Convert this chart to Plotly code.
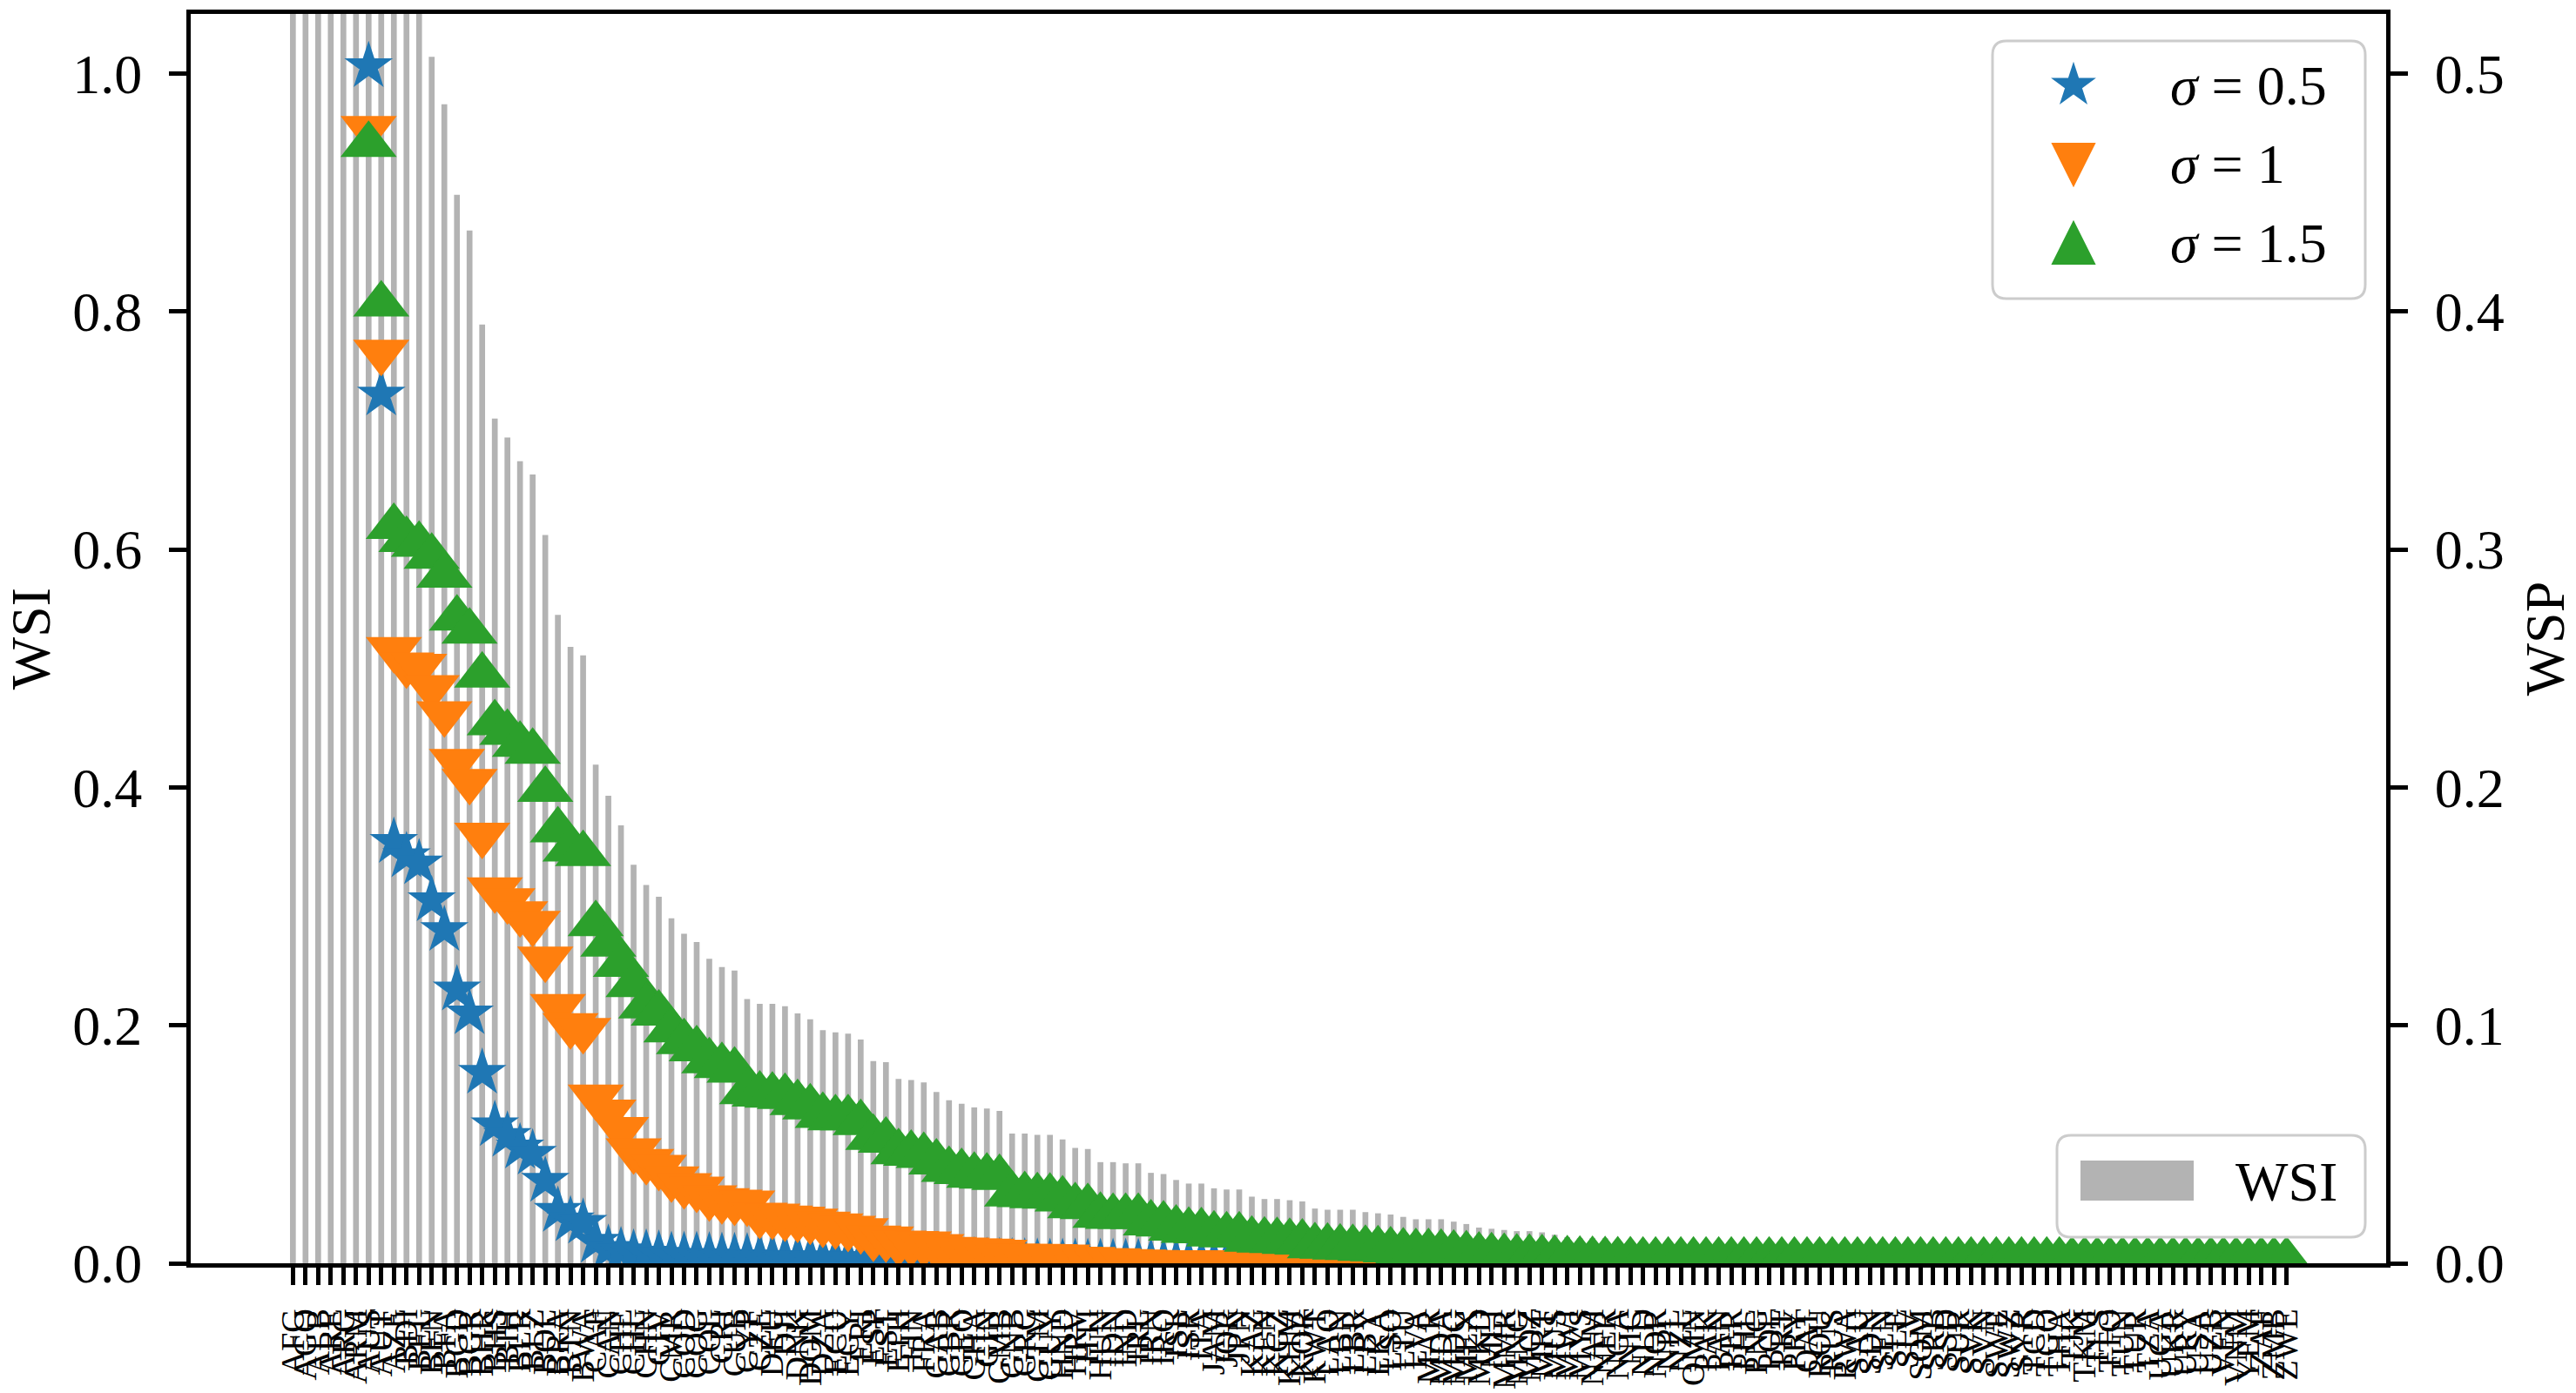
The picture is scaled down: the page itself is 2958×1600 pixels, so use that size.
import math
import plotly.graph_objects as go

# ---------------- data ----------------
countries = [
    "AFG", "AGO", "ALB", "ARE", "ARG", "ARM", "AUS", "AUT", "AZE", "BDI",
    "BEL", "BEN", "BFA", "BGD", "BGR", "BHR", "BHS", "BIH", "BLR", "BLZ",
    "BOL", "BRA", "BTN", "BWA", "CAF", "CAN", "CHE", "CHL", "CHN", "CIV",
    "CMR", "COD", "COG", "COL", "CRI", "CUB", "CYP", "CZE", "DEU", "DJI",
    "DNK", "DOM", "DZA", "ECU", "EGY", "ERI", "ESP", "EST", "ETH", "FIN",
    "FRA", "GAB", "GBR", "GEO", "GHA", "GIN", "GMB", "GNB", "GRC", "GTM",
    "GUY", "HND", "HRV", "HTI", "HUN", "IDN", "IND", "IRL", "IRN", "IRQ",
    "ISL", "ISR", "ITA", "JAM", "JOR", "JPN", "KAZ", "KEN", "KGZ", "KHM",
    "KOR", "KWT", "LAO", "LBN", "LBR", "LBY", "LKA", "LSO", "LTU", "LVA",
    "MAR", "MDA", "MDG", "MEX", "MKD", "MLI", "MMR", "MNG", "MOZ", "MRT",
    "MUS", "MWI", "MYS", "NAM", "NER", "NGA", "NIC", "NLD", "NOR", "NPL",
    "NZL", "OMN", "PAK", "PAN", "PER", "PHL", "PNG", "POL", "PRT", "PRY",
    "QAT", "ROU", "RUS", "RWA", "SAU", "SDN", "SEN", "SLE", "SLV", "SOM",
    "SRB", "SSD", "SUR", "SVK", "SVN", "SWE", "SWZ", "SYR", "TCD", "TGO",
    "THA", "TJK", "TKM", "TLS", "TTO", "TUN", "TUR", "TZA", "UGA", "UKR",
    "URY", "USA", "UZB", "VEN", "VNM", "YEM", "ZAF", "ZMB", "ZWE",
]

# WSI (left axis), bars
wsi = [
    2.8, 2.3, 1.9, 1.7, 1.55, 1.42, 1.33, 1.25, 1.18, 1.12, 1.07,
    1.014, 0.974, 0.898, 0.868, 0.789, 0.710, 0.694, 0.674, 0.663, 0.612,
    0.545, 0.518, 0.511, 0.419, 0.393, 0.368, 0.335, 0.318, 0.308, 0.290,
    0.277, 0.270, 0.256, 0.249, 0.246, 0.222, 0.218, 0.218, 0.216, 0.210,
    0.205, 0.196, 0.194, 0.193, 0.188, 0.170, 0.169, 0.155, 0.154, 0.152,
    0.144, 0.137, 0.134, 0.131, 0.130, 0.128, 0.109, 0.109, 0.108, 0.108,
    0.104, 0.097, 0.096, 0.085, 0.085, 0.084, 0.084, 0.076, 0.075, 0.070,
    0.067, 0.067, 0.063, 0.062, 0.062, 0.056, 0.054, 0.054, 0.053, 0.052,
    0.046, 0.045, 0.045, 0.045, 0.043, 0.042, 0.041, 0.039, 0.037, 0.037,
    0.037, 0.035, 0.033, 0.030, 0.029, 0.028, 0.027, 0.027, 0.026, 0.024,
    0.022, 0.021, 0.021, 0.021, 0.020, 0.019, 0.019, 0.018, 0.018, 0.017,
    0.017, 0.016, 0.016, 0.015, 0.015, 0.014, 0.014, 0.013, 0.013, 0.012,
    0.012, 0.011, 0.011, 0.010, 0.010, 0.009, 0.009, 0.009, 0.008, 0.008,
    0.007, 0.007, 0.007, 0.006, 0.006, 0.006, 0.005, 0.005, 0.005, 0.004,
    0.004, 0.004, 0.003, 0.003, 0.003, 0.003, 0.002, 0.002, 0.002, 0.002,
    0.002, 0.001, 0.001, 0.001, 0.001, 0.001, 0.0005, 0.0003,
]

# WSP (right axis); first six points lie above the axis range (not visible)
wsp_s05 = [None, None, None, None, None, None,
    0.503, 0.365, 0.177, 0.171, 0.168, 0.1525, 0.140, 0.115, 0.105, 0.080,
    0.058, 0.0535, 0.0486, 0.046, 0.0346, 0.022, 0.018, 0.017, 0.009, 0.006,
    0.005, 0.004, 0.004, 0.0035, 0.003, 0.003, 0.003, 0.0028, 0.0026, 0.0025,
    0.0024, 0.0023, 0.0022, 0.0021, 0.002, 0.002, 0.0019, 0.0018, 0.0017, 0.0016,
    0.0015, 0.0013, 0.0012, 0.0011, 0.001, 0.0009, 0.0008, 0.0007, 0.0006, 0.0005,
    0.0004, 0.0003, 0.0002, 0.0001, 0.0, 0.0, 0.0, 0.0, 0.0, 0.0,
    0.0, 0.0, 0.0, 0.0, 0.0, 0.0, 0.0, 0.0, 0.0, 0.0,
    0.0, 0.0, 0.0, 0.0, 0.0, 0.0, 0.0, 0.0, 0.0, 0.0,
    0.0, 0.0, 0.0, 0.0, 0.0, 0.0, 0.0, 0.0, 0.0, 0.0,
    0.0, 0.0, 0.0, 0.0, 0.0, 0.0, 0.0, 0.0, 0.0, 0.0,
    0.0, 0.0, 0.0, 0.0, 0.0, 0.0, 0.0, 0.0, 0.0, 0.0,
    0.0, 0.0, 0.0, 0.0, 0.0, 0.0, 0.0, 0.0, 0.0, 0.0,
    0.0, 0.0, 0.0, 0.0, 0.0, 0.0, 0.0, 0.0, 0.0, 0.0,
    0.0, 0.0, 0.0, 0.0, 0.0, 0.0, 0.0, 0.0, 0.0, 0.0,
    0.0, 0.0, 0.0,
]

wsp_s10 = [None, None, None, None, None, None,
    0.477, 0.383, 0.258, 0.2515, 0.251, 0.242, 0.231, 0.211, 0.2026, 0.180,
    0.157, 0.1525, 0.147, 0.143, 0.128, 0.108, 0.100, 0.098, 0.070, 0.0637,
    0.0563, 0.0474, 0.0429, 0.0404, 0.0356, 0.0327, 0.0313, 0.0276, 0.0264, 0.0258,
    0.0254, 0.0203, 0.0199, 0.0191, 0.0187, 0.0178, 0.0166, 0.0158, 0.0148, 0.0138,
    0.0107, 0.0103, 0.0086, 0.0084, 0.0082, 0.0071, 0.0059, 0.0057, 0.0053, 0.0052,
    0.0048, 0.0031, 0.0030, 0.0030, 0.0029, 0.0027, 0.0018, 0.0017, 0.0012, 0.0012,
    0.0008, 0.0006, 0.0005, 0.0004, 0.0004, 0.0003, 0.0003, 0.0003, 0.0002, 0.0002,
    0.0002, 0.0002, 0.0002, 0.0002, 0.0002, 0.0002, 0.0002, 0.0002, 0.0002, 0.0002,
    0.0002, 0.0002, 0.0002, 0.0002, 0.0002, 0.0002, 0.0002, 0.0002, 0.0002, 0.0002,
    0.0002, 0.0002, 0.0002, 0.0002, 0.0002, 0.0002, 0.0002, 0.0002, 0.0002, 0.0002,
    0.0002, 0.0002, 0.0002, 0.0002, 0.0002, 0.0002, 0.0002, 0.0002, 0.0002, 0.0002,
    0.0002, 0.0002, 0.0002, 0.0002, 0.0002, 0.0002, 0.0002, 0.0002, 0.0002, 0.0002,
    0.0002, 0.0002, 0.0002, 0.0002, 0.0002, 0.0002, 0.0002, 0.0002, 0.0002, 0.0002,
    0.0002, 0.0002, 0.0002, 0.0002, 0.0002, 0.0002, 0.0002, 0.0002, 0.0002, 0.0002,
    0.0002, 0.0002, 0.0002,
]

wsp_s15 = [None, None, None, None, None, None,
    0.470, 0.403, 0.3095, 0.304, 0.302, 0.297, 0.289, 0.271, 0.2655, 0.247,
    0.227, 0.223, 0.218, 0.215, 0.199, 0.182, 0.174, 0.172, 0.1426, 0.134,
    0.1255, 0.117, 0.108, 0.105, 0.098, 0.093, 0.090, 0.085, 0.083, 0.081,
    0.072, 0.071, 0.0705, 0.070, 0.0674, 0.0656, 0.062, 0.061, 0.061, 0.059,
    0.0528, 0.0516, 0.0467, 0.0461, 0.0452, 0.0424, 0.0393, 0.0384, 0.0369, 0.0365,
    0.0359, 0.029, 0.0287, 0.0283, 0.0281, 0.0269, 0.0241, 0.0237, 0.0200, 0.0196,
    0.0196, 0.0196, 0.0168, 0.0164, 0.0146, 0.0137, 0.0135, 0.0122, 0.0118, 0.0118,
    0.0100, 0.0096, 0.0094, 0.0091, 0.0088, 0.0072, 0.0070, 0.0067, 0.0065, 0.0061,
    0.0059, 0.0055, 0.0050, 0.0048, 0.0048, 0.0045, 0.0041, 0.0038, 0.0033, 0.0030,
    0.0027, 0.0025, 0.0024, 0.0022, 0.0019, 0.0017, 0.0016, 0.0015, 0.0014, 0.0013,
    0.0013, 0.0012, 0.0012, 0.0012, 0.0012, 0.0012, 0.0012, 0.0012, 0.0012, 0.0012,
    0.0012, 0.0012, 0.0012, 0.0012, 0.0012, 0.0012, 0.0012, 0.0012, 0.0012, 0.0012,
    0.0012, 0.0012, 0.0012, 0.0012, 0.0012, 0.0012, 0.0012, 0.0012, 0.0012, 0.0012,
    0.0012, 0.0012, 0.0012, 0.0012, 0.0012, 0.0012, 0.0012, 0.0012, 0.0012, 0.0012,
    0.0012, 0.0012, 0.0012, 0.0012, 0.0012, 0.0012, 0.0012, 0.0012, 0.0012, 0.0012,
    0.0012, 0.0012, 0.0012,
]

series_names = ["σ = 0.5", "σ = 1", "σ = 1.5"]
series_labels = ["<i>σ</i> = 0.5", "<i>σ</i> = 1", "<i>σ</i> = 1.5"]
series_colors = ["#1f77b4", "#ff7f0e", "#2ca02c"]

# ---------------- layout geometry ----------------
W, H = 2958, 1600
ML, MR, MT, MB = 219, 218, 16, 149
PW, PH = W - ML - MR, H - MT - MB
FONT = "Liberation Serif"
GRAY = "#b3b3b3"


def px(xp):
    return (xp - ML) / PW


def py(yp):
    return (H - MB - yp) / PH


def path_from_points(pts, close=True):
    s = "M " + " L ".join(f"{px(a):.6f},{py(b):.6f}" for a, b in pts)
    return s + (" Z" if close else "")


def rounded_rect(x0, y0, x1, y1, r):
    def P(a, b):
        return f"{px(a):.6f},{py(b):.6f}"
    return (f"M {P(x0 + r, y0)} L {P(x1 - r, y0)} Q {P(x1, y0)} {P(x1, y0 + r)} "
            f"L {P(x1, y1 - r)} Q {P(x1, y1)} {P(x1 - r, y1)} "
            f"L {P(x0 + r, y1)} Q {P(x0, y1)} {P(x0, y1 - r)} "
            f"L {P(x0, y0 + r)} Q {P(x0, y0)} {P(x0 + r, y0)} Z")


fig = go.Figure()

fig.add_trace(go.Bar(
    x=countries, y=wsi, name="WSI", width=0.46,
    marker=dict(color=GRAY, line=dict(width=0)), yaxis="y",
))

symbols = ["star", "triangle-down", "triangle-up"]
sizes = [42, 56, 56]
for vals, nm, col, sym, sz in zip([wsp_s05, wsp_s10, wsp_s15], series_names,
                                  series_colors, symbols, sizes):
    fig.add_trace(go.Scatter(
        x=countries, y=vals, name=nm, mode="markers", yaxis="y2",
        marker=dict(symbol=sym, size=sz, color=col, line=dict(width=0)),
        cliponaxis=True,
    ))

axis_common = dict(
    showline=True, linewidth=5, linecolor="black", ticks="outside",
    ticklen=20, tickwidth=5, tickcolor="black", showgrid=False, zeroline=False,
    automargin=False,
)

fig.update_layout(
    width=W, height=H,
    margin=dict(l=ML, r=MR, t=MT, b=MB, pad=0, autoexpand=False),
    paper_bgcolor="white", plot_bgcolor="white",
    showlegend=False,
    font=dict(family=FONT, size=64, color="black"),
    xaxis=dict(
        type="category", range=[-8.1, 165.9],
        tickmode="array", tickvals=countries, ticktext=countries,
        tickangle=-90, tickfont=dict(family=FONT, size=38, color="black"),
        mirror=True, ticklabelstandoff=12, **axis_common,
    ),
    yaxis=dict(
        range=[0, 1.05], tickmode="linear", tick0=0, dtick=0.2, tickformat=".1f",
        tickfont=dict(family=FONT, size=64), mirror=True,
        title=dict(text="WSI", font=dict(family=FONT, size=64), standoff=22),
        ticklabelstandoff=18, **axis_common,
    ),
    yaxis2=dict(
        overlaying="y", side="right", range=[0, 0.525], tickmode="linear",
        tick0=0, dtick=0.1, tickformat=".1f", tickfont=dict(family=FONT, size=64),
        title=dict(text="WSP", font=dict(family=FONT, size=64), standoff=30),
        ticklabelstandoff=18, **axis_common,
    ),
)

# ---------------- legends (drawn to match matplotlib styling) ----------------
shapes = []
annotations = []

# legend 1 (markers), top right
shapes.append(dict(type="path", xref="paper", yref="paper", layer="above",
                   path=rounded_rect(2288, 47, 2716, 343, 16),
                   fillcolor="rgba(255,255,255,0.8)",
                   line=dict(color="#cccccc", width=3)))
rows_y = [98, 189, 279]
cx = 2381
hs = 24
star_pts = []
for i in range(10):
    ang = math.radians(-90 + 36 * i)
    rad = hs if i % 2 == 0 else hs * 0.381966
    star_pts.append((cx + rad * math.cos(ang), rows_y[0] + rad * math.sin(ang)))
shapes.append(dict(type="path", xref="paper", yref="paper", layer="above",
                   path=path_from_points(star_pts), fillcolor=series_colors[0],
                   line=dict(color=series_colors[0], width=2)))
cy = rows_y[1]
shapes.append(dict(type="path", xref="paper", yref="paper", layer="above",
                   path=path_from_points([(cx - hs, cy - hs), (cx + hs, cy - hs), (cx, cy + hs)]),
                   fillcolor=series_colors[1], line=dict(color=series_colors[1], width=2)))
cy = rows_y[2]
shapes.append(dict(type="path", xref="paper", yref="paper", layer="above",
                   path=path_from_points([(cx - hs, cy + hs), (cx + hs, cy + hs), (cx, cy - hs)]),
                   fillcolor=series_colors[2], line=dict(color=series_colors[2], width=2)))
for lab, yy in zip(series_labels, rows_y):
    annotations.append(dict(xref="paper", yref="paper", x=px(2490), y=py(yy),
                            text=lab, showarrow=False, xanchor="left", yanchor="middle",
                            font=dict(family=FONT, size=64, color="black")))

# legend 2 (bars), bottom right
shapes.append(dict(type="path", xref="paper", yref="paper", layer="above",
                   path=rounded_rect(2362, 1304, 2716, 1421, 16),
                   fillcolor="rgba(255,255,255,0.8)",
                   line=dict(color="#cccccc", width=3)))
shapes.append(dict(type="rect", xref="paper", yref="paper", layer="above",
                   x0=px(2389), x1=px(2519), y0=py(1379), y1=py(1333),
                   fillcolor=GRAY, line=dict(width=0)))
annotations.append(dict(xref="paper", yref="paper", x=px(2565), y=py(1357),
                        text="WSI", showarrow=False, xanchor="left", yanchor="middle",
                        font=dict(family=FONT, size=64, color="black")))

fig.update_layout(shapes=shapes, annotations=annotations)

# remove the default page margin so the figure sits at the window's top-left corner
fig.write_html(
    "out.html",
    config={"displayModeBar": False},
    post_script="document.body.style.margin='0px';document.body.style.overflow='hidden';",
)
